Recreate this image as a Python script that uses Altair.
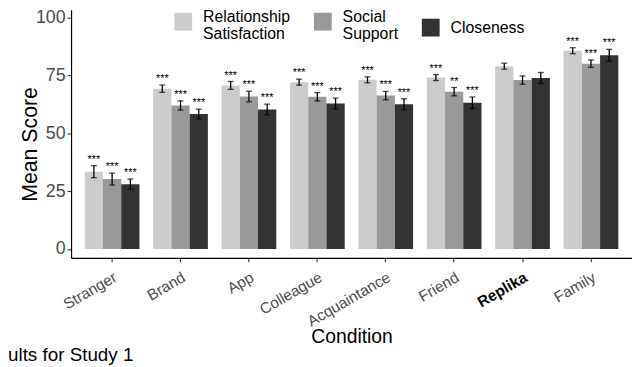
import altair as alt
import pandas as pd

conditions = ["Stranger", "Brand", "App", "Colleague", "Acquaintance", "Friend", "Replika", "Family"]
measures = ["Relationship Satisfaction", "Social Support", "Closeness"]

rs_mean = [33.4, 69.3, 70.7, 72.1, 73.1, 74.1, 79.0, 85.7]
ss_mean = [30.2, 62.0, 65.9, 65.8, 66.3, 68.0, 73.0, 80.1]
cl_mean = [28.0, 58.3, 60.3, 62.9, 62.5, 63.2, 73.9, 83.7]

rs_err = [2.6, 1.6, 1.7, 1.3, 1.3, 1.3, 1.3, 1.3]
ss_err = [2.6, 2.0, 2.3, 1.8, 1.8, 1.8, 1.8, 1.6]
cl_err = [2.2, 2.1, 2.3, 2.3, 2.4, 2.5, 2.4, 2.6]

rs_sig = ["***", "***", "***", "***", "***", "***", "", "***"]
ss_sig = ["***", "***", "***", "***", "***", "**", "", "***"]
cl_sig = ["***", "***", "***", "***", "***", "***", "", "***"]

colors = ["#CCCCCC", "#999999", "#333333"]
caption = "ults for Study 1"

rows = []
for m, means, errs, sigs in zip(measures, [rs_mean, ss_mean, cl_mean],
                                [rs_err, ss_err, cl_err], [rs_sig, ss_sig, cl_sig]):
    for c, v, e, s in zip(conditions, means, errs, sigs):
        rows.append(dict(Condition=c, Measure=m, Mean=v, Lo=v - e, Hi=v + e, Sig=s))
df = pd.DataFrame(rows)

FONT = "Liberation Sans"
PLOT_W = 566.6
PLOT_H = 250.5

x = alt.X(
    "Condition:N", sort=conditions, title="Condition",
    scale=alt.Scale(paddingInner=0.2, paddingOuter=0.2),
    axis=alt.Axis(
        labelAngle=-30, labelAlign="right", labelBaseline="top", labelPadding=8,
        labelFontSize=15.5,
        labelFontWeight=alt.ExprRef(expr="datum.value == 'Replika' ? 'bold' : 'normal'"),
        labelColor=alt.ExprRef(expr="datum.value == 'Replika' ? '#000000' : '#4D4D4D'"),
        titleFontSize=19.5, titleY=80, titleBaseline="middle",
    ),
)
xo = alt.XOffset("Measure:N", sort=measures, scale=alt.Scale(paddingInner=0, paddingOuter=0))
yscale = alt.Scale(domain=[-3.85, 103.4], nice=False, zero=False)
yaxis = alt.Axis(values=[0, 25, 50, 75, 100], labelFontSize=18, labelPadding=2,
                 titleFontSize=21.5, titleX=-29.7, titleY=135.5, titleAngle=-90,
                 titleBaseline="bottom", titleAlign="center")

base = alt.Chart(df)

bars = base.mark_bar(stroke=None).encode(
    x=x, xOffset=xo,
    y=alt.Y("Mean:Q", scale=yscale, axis=yaxis, title="Mean Score"),
    y2=alt.datum(0),
    color=alt.Color(
        "Measure:N", sort=measures,
        scale=alt.Scale(domain=measures, range=colors),
        legend=alt.Legend(
            title=None, orient="none", legendX=104.3, legendY=3, direction="horizontal",
            symbolType="square", symbolSize=324, symbolStrokeWidth=0, symbolOffset=0,
            labelFontSize=16, labelColor="#000000", labelOffset=11, columnPadding=23,
            labelExpr="split(datum.label, ' ')", padding=0, labelFont=FONT,
            labelBaseline=alt.ExprRef(expr="datum.value == 'Closeness' ? 'middle' : 'alphabetic'"),
        ),
    ),
)

rules = base.mark_rule(color="black", strokeWidth=1.3).encode(
    x=x, xOffset=xo,
    y=alt.Y("Lo:Q", scale=yscale, axis=yaxis, title="Mean Score"),
    y2="Hi:Q",
)
cap_hi = base.mark_tick(color="black", thickness=1.3, size=6).encode(
    x=x, xOffset=xo, y=alt.Y("Hi:Q", scale=yscale, axis=yaxis, title="Mean Score"),
)
cap_lo = base.mark_tick(color="black", thickness=1.3, size=6).encode(
    x=x, xOffset=xo, y=alt.Y("Lo:Q", scale=yscale, axis=yaxis, title="Mean Score"),
)
stars = base.mark_text(baseline="bottom", dy=-1, fontSize=11, font=FONT, color="black").encode(
    x=x, xOffset=xo, y=alt.Y("Hi:Q", scale=yscale, axis=yaxis, title="Mean Score"),
    text="Sig:N",
)

cap_df = pd.DataFrame({"t": [caption]})
cap_text = alt.Chart(cap_df).mark_text(
    align="left", baseline="middle", fontSize=19, font=FONT, color="black"
).encode(text="t:N", x=alt.value(-63.7), y=alt.value(349))

chart = alt.layer(bars, rules, cap_hi, cap_lo, stars, cap_text).properties(
    width=PLOT_W, height=PLOT_H,
    autosize=alt.AutoSizeParams(type="none"),
    padding={"left": 63.7, "top": 0, "right": 0, "bottom": 108.5},
).configure_view(stroke=None).configure_axis(
    grid=False, domainColor="#000000", domainWidth=1.2, tickColor="#333333",
    tickSize=4, tickWidth=1.1, labelFont=FONT, titleFont=FONT, labelColor="#4D4D4D",
    titleColor="#000000", titleFontWeight="normal",
)

chart.save("out.html", embed_options={"renderer": "svg", "actions": False})
